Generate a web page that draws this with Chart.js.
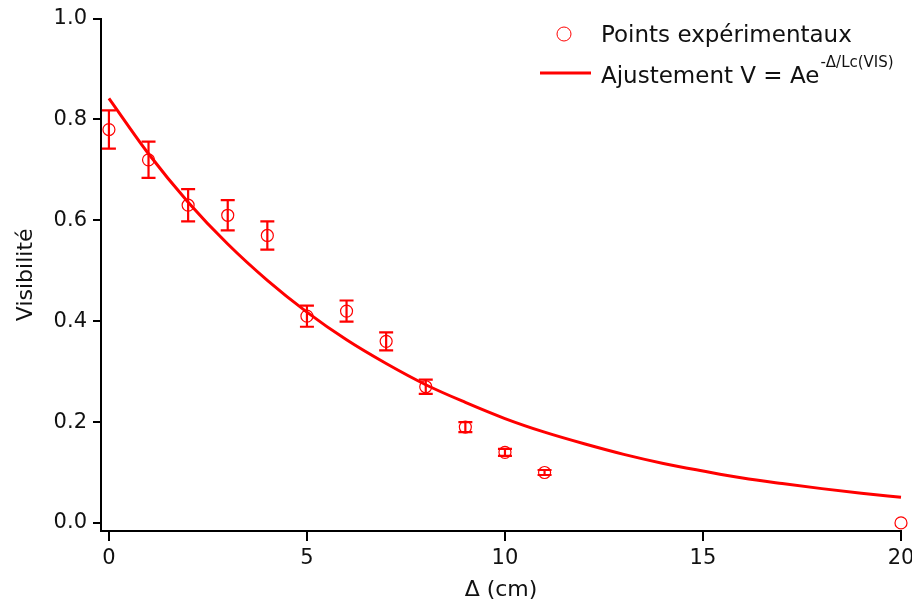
<!DOCTYPE html>
<html>
<head>
<meta charset="utf-8">
<script src="https://cdn.jsdelivr.net/npm/chart.js@4"></script>
<style>
  html, body { margin: 0; padding: 0; background: #fff; }
  #wrap { width: 912px; height: 604px; }
</style>
</head>
<body>
<div id="wrap"><canvas id="c"></canvas></div>
<script>
// données
const deltaCm    = [0, 1, 2, 3, 4, 5, 6, 7, 8, 9, 10, 11, 20];
const visibilite = [0.78, 0.72, 0.63, 0.61, 0.57, 0.41, 0.42, 0.36, 0.27, 0.19, 0.14, 0.10, 0.0];
const erreurs    = [0.038, 0.036, 0.032, 0.030, 0.028, 0.021, 0.021, 0.018, 0.014, 0.010, 0.007, 0.005, 0.0];

const fitX = [0, 1, 2, 3, 4, 5, 6, 7, 8, 9, 10, 11, 12, 13, 14, 15, 16, 17, 18, 19, 20];
const fitY = [0.842, 0.732, 0.636, 0.553, 0.481, 0.418, 0.363, 0.316, 0.274, 0.239, 0.207,
              0.180, 0.157, 0.136, 0.118, 0.103, 0.089, 0.078, 0.068, 0.059, 0.051];

const xTicks = [0, 5, 10, 15, 20];
const yTicks = [0, 0.2, 0.4, 0.6, 0.8, 1.0];

const RED = '#ff0000';
const FONT = "'DejaVu Sans', sans-serif";

const errorBars = {
  id: 'errorBars',
  afterDatasetsDraw(chart) {
    const { ctx, scales: { x, y } } = chart;
    ctx.save();
    ctx.strokeStyle = RED;
    ctx.lineWidth = 2.2;
    deltaCm.forEach((d, i) => {
      const e = erreurs[i];
      if (!e) return;
      const px = x.getPixelForValue(d);
      const top = y.getPixelForValue(visibilite[i] + e);
      const bot = y.getPixelForValue(visibilite[i] - e);
      ctx.beginPath();
      ctx.moveTo(px, top); ctx.lineTo(px, bot);
      ctx.moveTo(px - 7, top); ctx.lineTo(px + 7, top);
      ctx.moveTo(px - 7, bot); ctx.lineTo(px + 7, bot);
      ctx.stroke();
    });
    ctx.restore();
  },
};

const legendPerso = {
  id: 'legendPerso',
  afterDraw(chart) {
    const { ctx } = chart;
    ctx.save();
    ctx.strokeStyle = RED;
    ctx.lineWidth = 1;
    ctx.beginPath();
    ctx.arc(564, 34, 7, 0, Math.PI * 2);
    ctx.stroke();
    ctx.lineWidth = 3;
    ctx.beginPath();
    ctx.moveTo(540, 73); ctx.lineTo(591, 73);
    ctx.stroke();

    ctx.fillStyle = '#111';
    ctx.textBaseline = 'alphabetic';
    ctx.font = `23px ${FONT}`;
    ctx.fillText('Points expérimentaux', 601, 42);
    const base = 'Ajustement V = Ae';
    ctx.fillText(base, 601, 83);
    const w = ctx.measureText(base).width;
    ctx.font = `15px ${FONT}`;
    ctx.fillText('-Δ/Lc(VIS)', 601 + w + 1, 67);
    ctx.restore();
  },
};

new Chart(document.getElementById('c'), {
  data: {
    datasets: [
      {
        type: 'scatter',
        label: 'Points expérimentaux',
        data: deltaCm.map((d, i) => ({ x: d, y: visibilite[i] })),
        pointStyle: 'circle',
        pointRadius: 6,
        pointBorderWidth: 1.2,
        pointBorderColor: RED,
        pointBackgroundColor: 'rgba(0,0,0,0)',
        clip: false,
        order: 1,
      },
      {
        type: 'line',
        label: 'Ajustement',
        data: fitX.map((d, i) => ({ x: d, y: fitY[i] })),
        borderColor: RED,
        borderWidth: 3,
        pointRadius: 0,
        cubicInterpolationMode: 'monotone',
        fill: false,
        clip: false,
        order: 2,
      },
    ],
  },
  options: {
    responsive: true,
    maintainAspectRatio: false,
    animation: false,
    layout: { padding: { top: 17, right: 0, left: 0, bottom: 0 } },
    plugins: {
      legend: { display: false },
      tooltip: { enabled: false },
    },
    scales: {
      x: {
        type: 'linear',
        min: -0.2, max: 20,
        afterBuildTicks: s => { s.ticks = xTicks.map(v => ({ value: v })); },
        afterFit: s => { s.height = 73; s.paddingLeft = 0; s.paddingRight = 11; },
        grid: { drawOnChartArea: false, drawTicks: true, tickLength: 10, color: '#000', lineWidth: 2 },
        border: { color: '#000', width: 2 },
        ticks: { color: '#111', font: { family: FONT, size: 21 }, padding: 5, maxRotation: 0,
                 callback: v => String(v) },
        title: { display: true, text: 'Δ (cm)', color: '#111', font: { family: FONT, size: 22 }, padding: { top: 0, bottom: 1 } },
      },
      y: {
        type: 'linear',
        min: -0.016, max: 1.0,
        afterBuildTicks: s => { s.ticks = yTicks.map(v => ({ value: v })); },
        afterFit: s => { s.width = 101; },
        grid: { drawOnChartArea: false, drawTicks: true, tickLength: 8, color: '#000', lineWidth: 2 },
        border: { color: '#000', width: 2 },
        ticks: { color: '#111', font: { family: FONT, size: 21 }, padding: 6,
                 callback: v => v.toFixed(1) },
        title: { display: true, text: 'Visibilité', color: '#111', font: { family: FONT, size: 22 }, padding: { top: 13, bottom: 0 } },
      },
    },
  },
  plugins: [errorBars, legendPerso],
});
</script>
</body>
</html>
